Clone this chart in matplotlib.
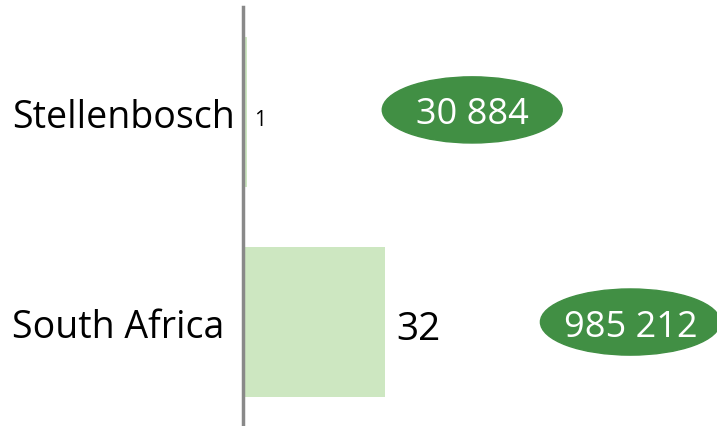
import matplotlib.pyplot as plt
from matplotlib.patches import Ellipse

# areas and their values
places = ['South Africa', 'Stellenbosch']
values = [32, 1]
counts = ['985 212', '30 884']
count_pos = [87.2, 51.6]      # x centre of each count badge

plt.rcParams['font.family'] = ['Open Sans', 'DejaVu Sans']

fig = plt.figure(figsize=(7.17, 4.27), dpi=100)
ax = fig.add_axes([243/717, 0, 474/717, 419/427])

ypos = [0, 1]
ax.barh(ypos, values, height=0.714, color='#cde7c1', zorder=1)

# value labels next to the bars
ax.text(values[0] + 2.5, -0.01, str(values[0]), va='center_baseline', ha='left', fontsize=28)
ax.text(values[1] + 1.6, 0.975, str(values[1]), va='center_baseline', ha='left', fontsize=15)

# green badges with the counts
for y, x, c in zip(ypos, count_pos, counts):
    ax.add_patch(Ellipse((x, y + 0.01 * y), 40.5, 0.315, color='#418f44', zorder=2))
    ax.text(x, y + 0.01 * y, c, color='white', ha='center', va='center_baseline', fontsize=26, zorder=3)

ax.set_xlim(0, 106.7)
ax.set_ylim(-0.495, 1.5)
ax.set_yticks(ypos)
ax.set_yticklabels(places, fontsize=27, va='center_baseline', ha='left')
ax.tick_params(axis='y', length=0, pad=166)
ax.set_xticks([])
for s in ['top', 'right', 'bottom']:
    ax.spines[s].set_visible(False)
ax.spines['left'].set_color('#898989')
ax.spines['left'].set_linewidth(2.5)
ax.spines['left'].set_zorder(4)

fig.savefig('out.png', dpi=100)
